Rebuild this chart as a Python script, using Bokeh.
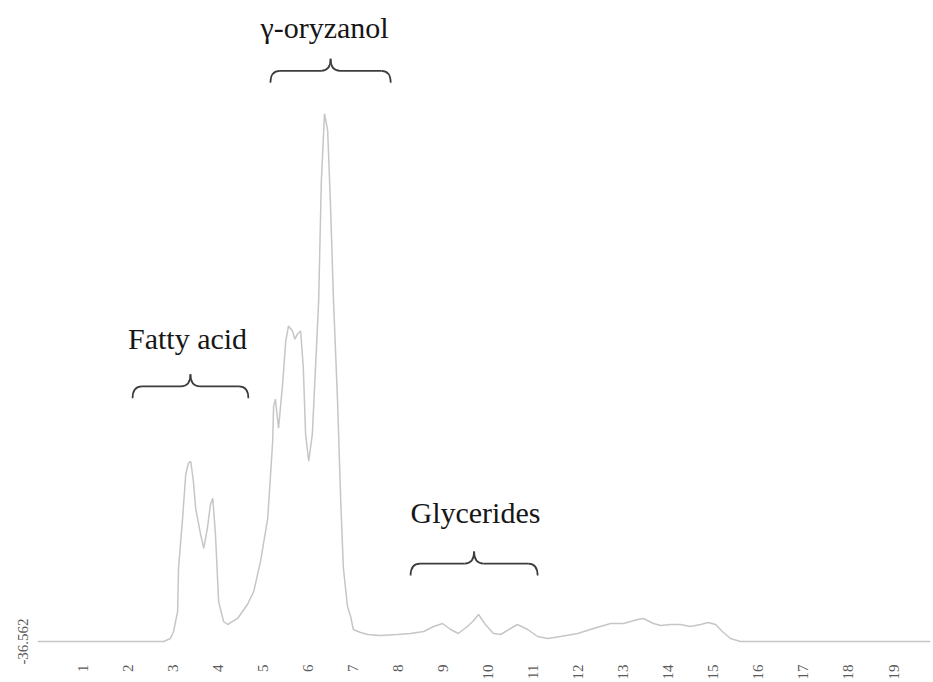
import math
from bokeh.plotting import figure
from bokeh.models import Range1d, FixedTicker, PrintfTickFormatter
from bokeh.core.properties import value
from bokeh.embed import file_html
from bokeh.resources import INLINE

# Chromatogram trace: retention time (min) and detector signal
rt = [0.00, 2.80, 2.95, 3.02, 3.11, 3.13, 3.22, 3.29, 3.35, 3.40, 3.46, 3.51, 3.62, 3.69,
      3.77, 3.84, 3.89, 3.95, 4.02, 4.13, 4.22, 4.44, 4.66, 4.80, 4.95, 5.11, 5.22, 5.24,
      5.28, 5.35, 5.44, 5.51, 5.57, 5.66, 5.71, 5.77, 5.84, 5.90, 5.95, 6.02, 6.10, 6.17,
      6.24, 6.30, 6.37, 6.44, 6.50, 6.57, 6.66, 6.73, 6.79, 6.88, 6.95, 7.01, 7.17, 7.33,
      7.61, 7.99, 8.28, 8.57, 8.79, 8.99, 9.17, 9.34, 9.54, 9.66, 9.79, 9.94, 10.12, 10.28,
      10.50, 10.65, 10.88, 11.10, 11.32, 11.61, 11.99, 12.34, 12.72, 13.01, 13.32, 13.45,
      13.67, 13.83, 14.05, 14.27, 14.49, 14.72, 14.89, 15.05, 15.20, 15.38, 15.60, 19.82]
signal = [-36.6, -36.6, -30.6, -16.6, 23.4, 109.4, 209.4, 297.4, 319.4, 323.4, 283.4, 229.4,
          177.4, 149.4, 189.4, 237.4, 249.4, 177.4, 43.4, 3.4, -2.6, 9.4, 37.4, 63.4, 123.4,
          209.4, 363.4, 433.4, 447.4, 389.4, 477.4, 563.4, 593.4, 583.4, 567.4, 577.4, 583.4,
          509.4, 377.4, 323.4, 377.4, 509.4, 643.4, 883.4, 1017.4, 983.4, 843.4, 643.4, 443.4,
          243.4, 109.4, 33.4, 13.4, -12.6, -18.6, -22.6, -24.6, -22.6, -20.6, -16.6, -6.6,
          -0.6, -12.6, -20.6, -6.6, 3.4, 17.4, -2.6, -20.6, -22.6, -10.6, -2.6, -12.6, -26.6,
          -30.6, -26.6, -20.6, -10.6, -0.6, -0.6, 7.4, 9.4, -0.6, -4.6, -2.6, -2.6, -6.6,
          -2.6, 1.4, -2.6, -16.6, -30.6, -36.6, -36.6]

x_ticks = list(range(1, 20))
y_ticks = [-36.562]

# Peak-group annotations
group_names = ["Fatty acid", "\u03b3-oryzanol", "Glycerides"]
group_label_x = [3.33, 6.37, 9.72]
group_label_y = [569, 1189, 221]
brace_start = [2.11, 5.17, 8.28]
brace_end = [4.68, 7.84, 11.10]
brace_level = [473, 1103, 119]

p = figure(width=933, height=682, output_backend="svg", toolbar_location=None,
           x_range=Range1d(0, 19.82), y_range=Range1d(-42.562, 1243.438),
           min_border_left=37, min_border_right=3, min_border_top=0, min_border_bottom=32,
           background_fill_color="white", border_fill_color="white")
p.outline_line_color = None
p.grid.visible = False

p.line(rt, signal, line_color="#c6c6c6", line_width=1.5)

# braces
h = 24.0   # vertical reach of hooks and tip
w = 0.21   # horizontal extent of the curved parts
qx0, qy0, qx1, qy1, qcx, qcy = [], [], [], [], [], []
sx0, sy0, sx1, sy1 = [], [], [], []
for a, b, y in zip(brace_start, brace_end, brace_level):
    m = (a + b) / 2
    qx0.append(a); qy0.append(y - h); qx1.append(a + w); qy1.append(y); qcx.append(a); qcy.append(y)
    qx0.append(m - w); qy0.append(y); qx1.append(m); qy1.append(y + h); qcx.append(m); qcy.append(y)
    qx0.append(m); qy0.append(y + h); qx1.append(m + w); qy1.append(y); qcx.append(m); qcy.append(y)
    qx0.append(b - w); qy0.append(y); qx1.append(b); qy1.append(y - h); qcx.append(b); qcy.append(y)
    sx0 += [a + w, m + w]; sy0 += [y, y]; sx1 += [m - w, b - w]; sy1 += [y, y]

brace_color = "#3c3c3c"
p.quadratic(x0=qx0, y0=qy0, x1=qx1, y1=qy1, cx=qcx, cy=qcy, line_color=brace_color, line_width=1.7)
p.segment(x0=sx0, y0=sy0, x1=sx1, y1=sy1, line_color=brace_color, line_width=1.7)

p.text(x=group_label_x, y=group_label_y, text=group_names, text_font=value("Liberation Serif"),
       text_font_size="30px", text_color="#161616", text_align="center",
       text_baseline="alphabetic")

# axes
for ax in (p.xaxis[0], p.yaxis[0]):
    ax.axis_line_color = None
    ax.major_tick_line_color = None
    ax.minor_tick_line_color = None
    ax.major_label_text_font = "Liberation Serif"
    ax.major_label_text_font_size = "15px"
    ax.major_label_text_color = "#5a5a5a"

p.xaxis.ticker = FixedTicker(ticks=x_ticks)
p.xaxis.major_label_orientation = math.pi / 2
p.xaxis.major_label_standoff = 14
p.yaxis.ticker = FixedTicker(ticks=y_ticks)
p.yaxis.formatter = PrintfTickFormatter(format="%.3f")
p.yaxis.major_label_orientation = "vertical"
p.yaxis.major_label_standoff = 3

open("out.html", "w").write(file_html(p, INLINE))
